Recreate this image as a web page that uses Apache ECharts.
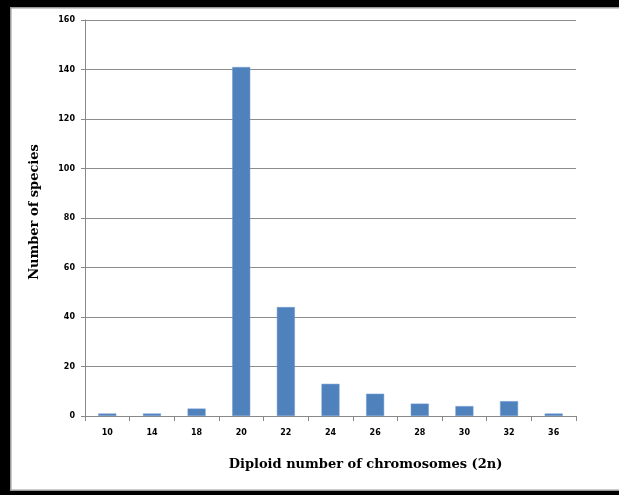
<!DOCTYPE html>
<html>
<head>
<meta charset="utf-8">
<script src="https://cdn.jsdelivr.net/npm/echarts@6/dist/echarts.min.js"></script>
<style>
html,body{margin:0;padding:0;background:#fff;}
#c{width:619px;height:495px;}
</style>
</head>
<body>
<div id="c"></div>
<script>
var categories = ['10','14','18','20','22','24','26','28','30','32','36'];
var species = [1, 1, 3, 141, 44, 13, 9, 5, 4, 6, 1];
var yTicks = [0, 20, 40, 60, 80, 100, 120, 140, 160];

var chart = echarts.init(document.getElementById('c'));
chart.setOption({
  animation: false,
  backgroundColor: '#fff',
  graphic: [
    {type:'rect', shape:{x:0,y:0,width:619,height:7}, style:{fill:'#000'}, silent:true},
    {type:'rect', shape:{x:0,y:0,width:10,height:495}, style:{fill:'#000'}, silent:true},
    {type:'rect', shape:{x:0,y:491,width:619,height:4}, style:{fill:'#000'}, silent:true},
    {type:'rect', shape:{x:10,y:7,width:609,height:1.5}, style:{fill:'#999'}, silent:true},
    {type:'rect', shape:{x:10,y:7,width:1.5,height:484}, style:{fill:'#999'}, silent:true},
    {type:'rect', shape:{x:10,y:489.5,width:609,height:1.5}, style:{fill:'#999'}, silent:true}
  ],
  grid: {left: 85, right: 43, top: 20, bottom: 79, containLabel: false},
  xAxis: {
    type: 'category',
    data: categories,
    name: 'Diploid number of chromosomes (2n)',
    nameLocation: 'middle',
    nameGap: 42,
    nameTextStyle: {fontFamily: 'DejaVu Serif', fontWeight: 'bold', fontSize: 13, color: '#000', padding:[0,0,0,70]},
    axisLine: {lineStyle: {color: '#888', width: 1}},
    axisTick: {show: true, alignWithLabel: false, length: 5, lineStyle: {color: '#888'}},
    axisLabel: {fontFamily: 'DejaVu Sans', fontWeight: 'bold', fontSize: 8, color: '#000', margin: 13}
  },
  yAxis: {
    type: 'value',
    min: 0, max: 160, interval: 20,
    name: 'Number of species',
    nameLocation: 'middle',
    nameGap: 44,
    nameTextStyle: {fontFamily: 'DejaVu Serif', fontWeight: 'bold', fontSize: 13, color: '#000', padding:[0,0,0,12]},
    axisLine: {show: true, lineStyle: {color: '#888', width: 1}},
    axisTick: {show: true, length: 4, lineStyle: {color: '#888'}},
    axisLabel: {fontFamily: 'DejaVu Sans', fontWeight: 'bold', fontSize: 8, color: '#000', margin: 10,
      formatter: function(v){ return yTicks.indexOf(v) >= 0 ? String(v) : ''; }},
    splitLine: {show: true, lineStyle: {color: '#8c8c8c', width: 1}}
  },
  series: [{
    type: 'bar',
    data: species,
    barWidth: 18,
    itemStyle: {color: '#4F81BD', borderColor: '#6f9ad0', borderWidth: 0.5}
  }]
});
</script>
</body>
</html>
